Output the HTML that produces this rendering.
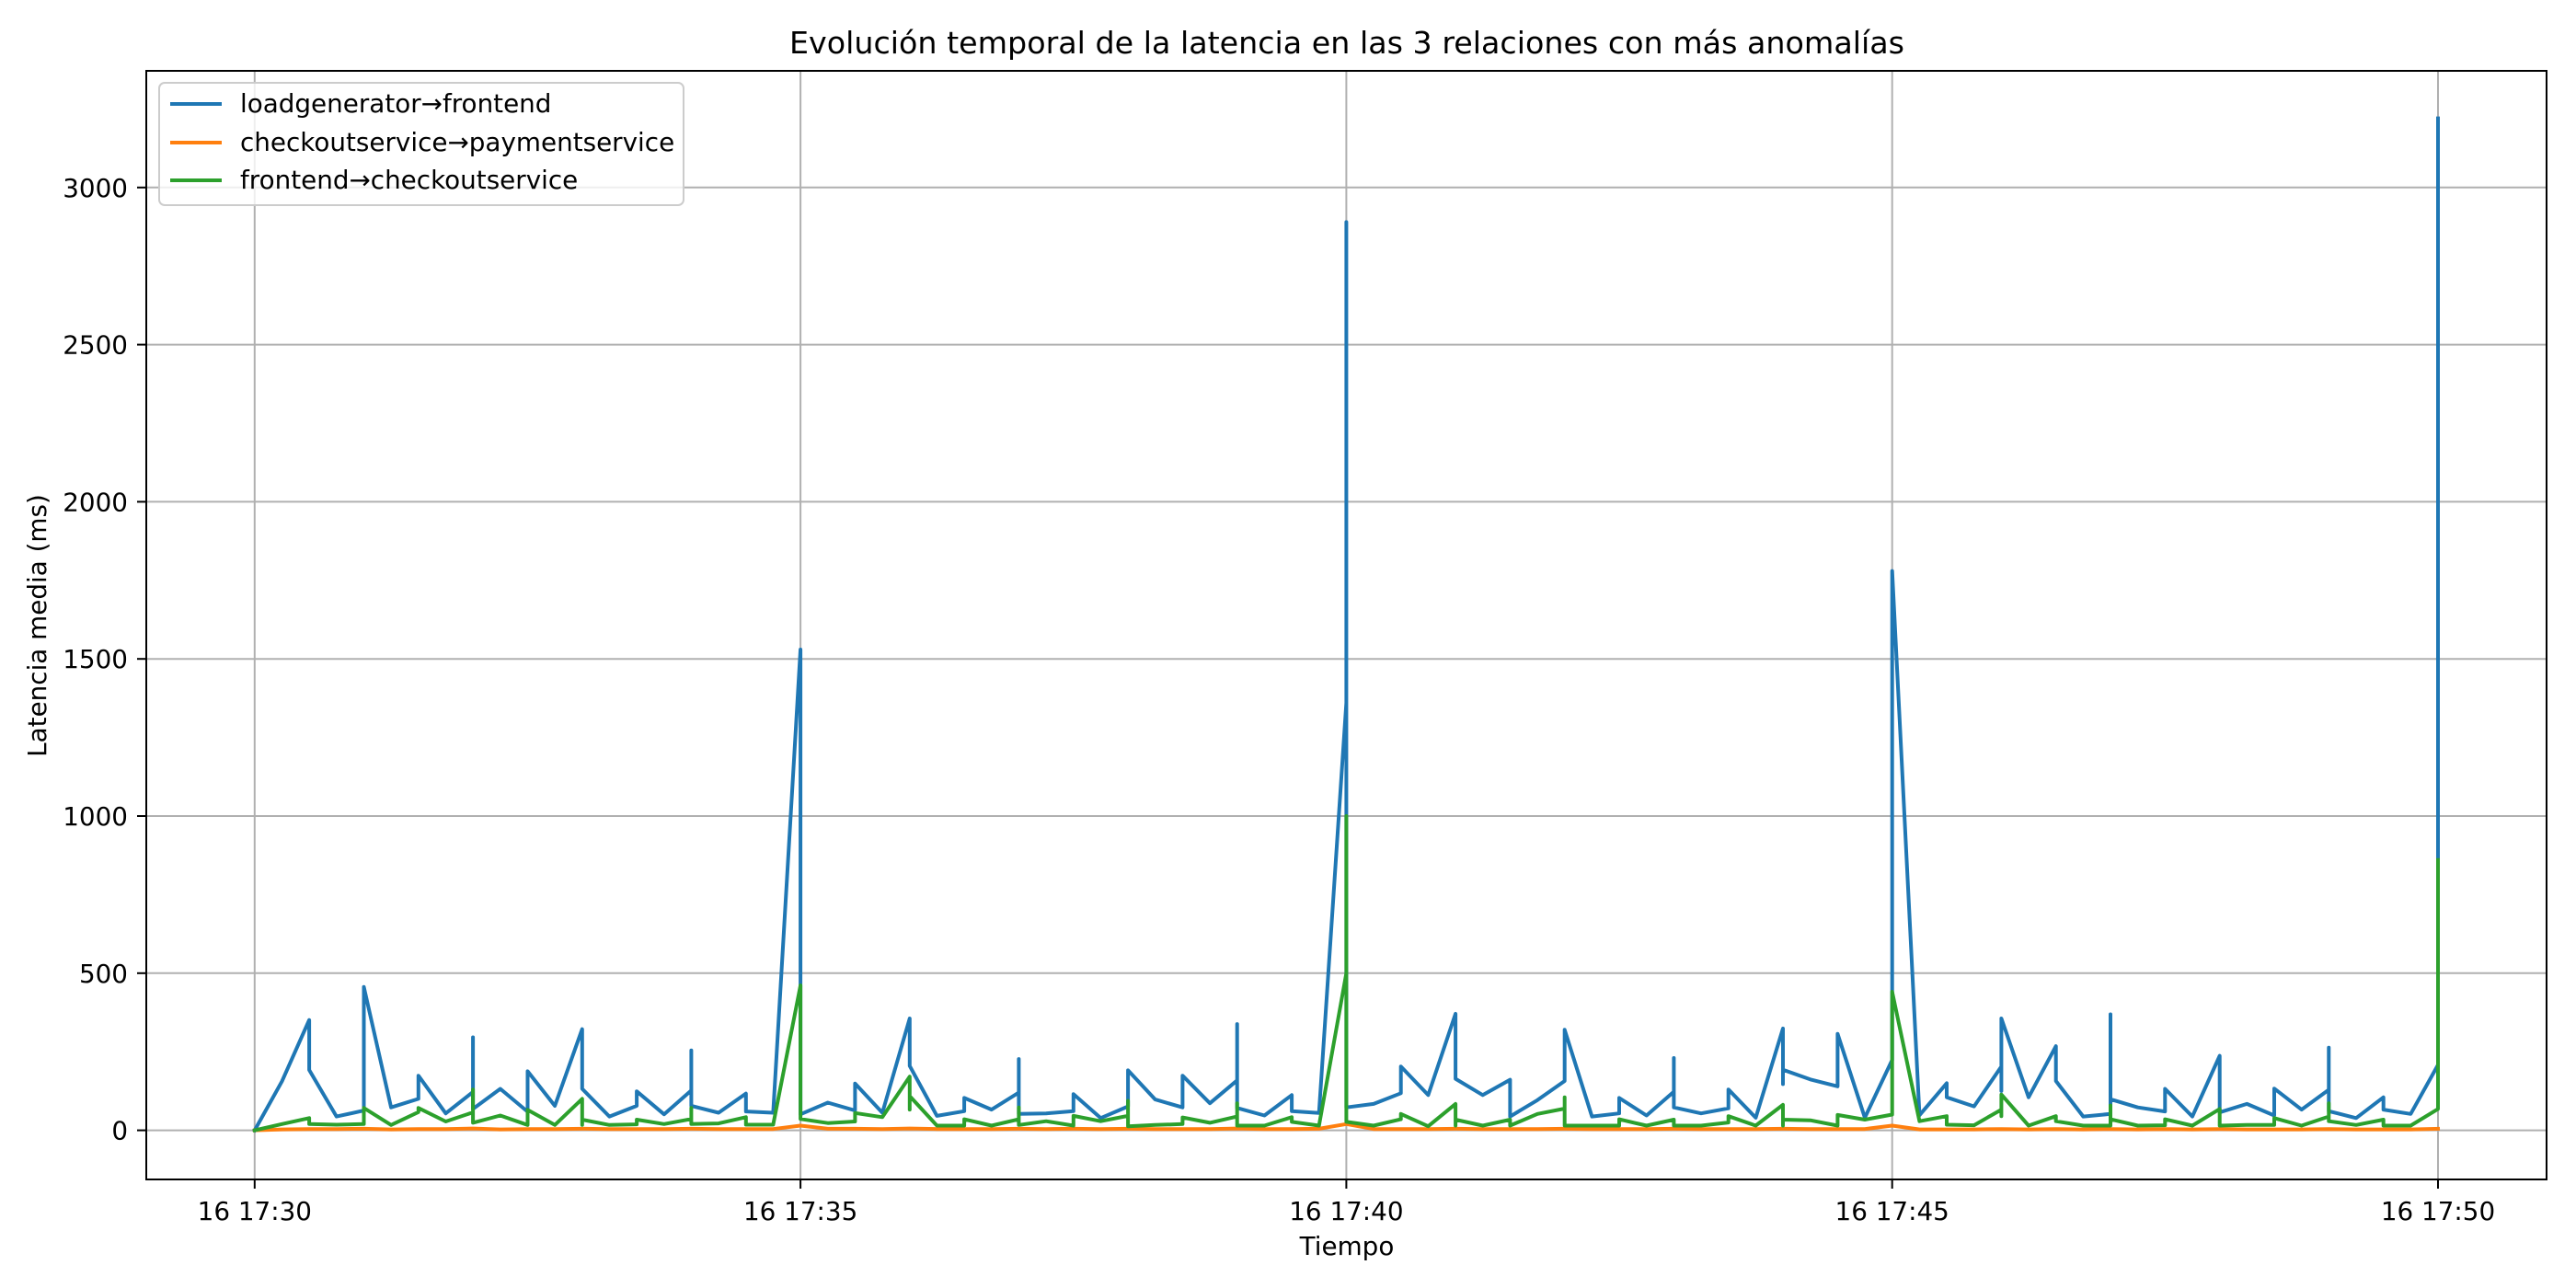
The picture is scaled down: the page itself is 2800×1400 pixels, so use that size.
<!DOCTYPE html>
<html><head><meta charset="utf-8">
<style>
html,body{margin:0;padding:0;background:#fff;}
svg{display:block;font-family:"DejaVu Sans","Liberation Sans",sans-serif;}
</style></head>
<body>
<svg id="chart" width="2800" height="1400" viewBox="0 0 2800 1400" xmlns="http://www.w3.org/2000/svg">
<rect width="2800" height="1400" fill="#fff"/>
<text x="1464" y="58" font-size="33.3" text-anchor="middle" fill="#000">Evolución temporal de la latencia en las 3 relaciones con más anomalías</text>
<g id="grid"></g>
<g id="series"></g>
<rect x="159" y="77" width="2609" height="1205" fill="none" stroke="#000" stroke-width="2"/>
<g id="axes"></g>
<text x="1464" y="1364" font-size="27.8" text-anchor="middle">Tiempo</text>
<text transform="translate(50,680) rotate(-90)" font-size="27.8" text-anchor="middle">Latencia media (ms)</text>
<g>
<rect x="173" y="90" width="570" height="133" rx="6" fill="#fff" fill-opacity="0.8" stroke="#ccc" stroke-width="2"/>
<line x1="185" y1="113" x2="241" y2="113" stroke="#1f77b4" stroke-width="4"/>
<text x="261" y="122" font-size="27.8">loadgenerator→frontend</text>
<line x1="185" y1="155" x2="241" y2="155" stroke="#ff7f0e" stroke-width="4"/>
<text x="261" y="164" font-size="27.8">checkoutservice→paymentservice</text>
<line x1="185" y1="196" x2="241" y2="196" stroke="#2ca02c" stroke-width="4"/>
<text x="261" y="205" font-size="27.8">frontend→checkoutservice</text>
</g>
</svg>
<script>
// seconds since 16 17:30
const blueTimes=[0,15,30,30,45,60,60,75,90,90,105,120,120,120,135,150,150,165,180,180,195,210,210,225,240,240,240,255,270,270,285,300,300,315,330,330,345,360,360,375,390,390,405,420,420,420,435,450,450,465,480,480,495,510,510,525,540,540,540,555,570,570,585,600,600,600,615,630,630,645,660,660,675,690,690,705,720,720,735,750,750,765,780,780,780,795,810,810,825,840,840,840,855,870,870,885,900,900,915,930,930,945,960,960,960,975,990,990,1005,1020,1020,1020,1035,1050,1050,1065,1080,1080,1095,1110,1110,1125,1140,1140,1140,1155,1170,1170,1185,1200,1200];
const blueValues=[0,156,351,192,44,63,456,73,100,174,54,122,296,68,132,59,188,78,322,132,44,78,124,51,127,254,78,56,117,60,56,1530,51,88,63,149,56,356,205,46,61,103,66,120,227,52,54,61,115,39,76,191,98,73,174,86,159,338,71,47,112,61,55,1360,2890,73,84,118,203,112,371,164,112,161,44,96,157,320,44,54,103,47,123,230,73,54,70,130,40,324,147,193,162,140,307,40,224,1780,48,150,105,76,203,125,356,105,268,157,44,52,369,99,73,60,132,44,237,57,84,47,133,66,129,263,61,39,105,66,52,208,3220];
const greenTimes=[0,15,30,30,45,60,60,75,90,90,105,120,120,120,135,150,150,165,180,180,180,195,210,210,225,240,240,240,255,270,270,285,300,300,315,330,330,345,360,360,360,375,390,390,405,420,420,420,435,450,450,465,480,480,480,495,510,510,525,540,540,540,555,570,570,585,600,600,600,615,630,630,645,660,660,660,675,690,690,705,720,720,720,735,750,750,765,780,780,795,810,810,825,840,840,840,855,870,870,885,900,900,915,930,930,945,960,960,960,975,990,990,1005,1020,1020,1020,1035,1050,1050,1065,1080,1080,1095,1110,1110,1125,1140,1140,1140,1155,1170,1170,1185,1200,1200];
const greenValues=[0,20,39,20,18,20,71,17,58,71,28,57,130,24,47,17,65,17,100,17,34,17,19,34,20,36,71,20,22,42,18,18,461,36,23,28,55,42,171,66,109,15,15,35,15,35,73,17,29,15,46,29,46,94,13,17,20,41,24,44,86,15,15,42,27,15,500,1000,27,15,35,52,13,84,15,34,15,34,15,52,69,105,15,15,15,35,15,34,15,15,25,45,15,81,15,34,32,15,49,34,50,441,29,45,18,16,66,45,114,15,45,29,15,15,79,35,15,16,35,15,68,15,17,17,39,15,44,86,29,17,34,15,15,68,860];
const orangeTimes=[0,15,30,45,60,75,90,105,120,135,150,165,180,195,210,225,240,255,270,285,300,315,330,345,360,375,390,405,420,435,450,465,480,495,510,525,540,555,570,585,600,615,630,645,660,675,690,705,720,735,750,765,780,795,810,825,840,855,870,885,900,915,930,945,960,975,990,1005,1020,1035,1050,1065,1080,1095,1110,1125,1140,1155,1170,1185,1200];
const orangeValues=[0,3,4,4,5,3,4,4,6,3,4,4,5,4,4,4,5,4,4,4,15,5,5,4,6,4,4,4,5,4,5,4,5,4,4,4,6,4,4,5,20,4,4,4,5,4,4,4,5,4,4,4,5,4,4,4,5,4,4,4,15,3,3,3,4,3,4,3,4,3,4,3,4,3,3,3,4,3,3,3,5];
const yTicks=[0,500,1000,1500,2000,2500,3000];
const xTickSecs=[0,300,600,900,1200];
const xTickLabels=["16 17:30","16 17:35","16 17:40","16 17:45","16 17:50"];

const NS="http://www.w3.org/2000/svg";
const X0=276.8, XPS=(2650-276.8)/1200;
const Y0=1228.6, YPV=170.8/500;
function xs(t){return X0+t*XPS;}
function ys(v){return Y0-v*YPV;}
function mk(tag,attrs,parent){const e=document.createElementNS(NS,tag);for(const k in attrs)e.setAttribute(k,attrs[k]);parent.appendChild(e);return e;}
const grid=document.getElementById('grid'),axes=document.getElementById('axes'),series=document.getElementById('series');
yTicks.forEach(v=>{
  const l=mk('line',{x1:159,x2:2768,y1:ys(v),y2:ys(v),stroke:'#b0b0b0','stroke-width':2},grid);
  
  
  const t=mk('line',{x1:149,x2:159,y1:ys(v),y2:ys(v),stroke:'#000','stroke-width':2},axes);
  
  
  const tx=mk('text',{x:139,y:ys(v)+10,'font-size':27.8,'text-anchor':'end'},axes);
  tx.textContent=String(v);
  
  
});
xTickSecs.forEach((s,i)=>{
  const l=mk('line',{x1:xs(s),x2:xs(s),y1:77,y2:1282,stroke:'#b0b0b0','stroke-width':2},grid);
  
  
  const t=mk('line',{x1:xs(s),x2:xs(s),y1:1282,y2:1292,stroke:'#000','stroke-width':2},axes);
  
  
  const tx=mk('text',{x:xs(s),y:1326,'font-size':27.8,'text-anchor':'middle'},axes);
  tx.textContent=xTickLabels[i];
  
  
});
function drawLine(times,vals,color,name){
  const d=times.map((t,i)=>(i?'L':'M')+xs(t).toFixed(1)+' '+ys(vals[i]).toFixed(1)).join(' ');
  const p=mk('path',{d:d,fill:'none',stroke:color,'stroke-width':4,'stroke-linejoin':'round','stroke-linecap':'square'},series);
  
  
}
drawLine(blueTimes,blueValues,'#1f77b4','line-loadgenerator-frontend');
drawLine(orangeTimes,orangeValues,'#ff7f0e','line-checkout-payment');
drawLine(greenTimes,greenValues,'#2ca02c','line-frontend-checkout');
</script>
</body></html>
